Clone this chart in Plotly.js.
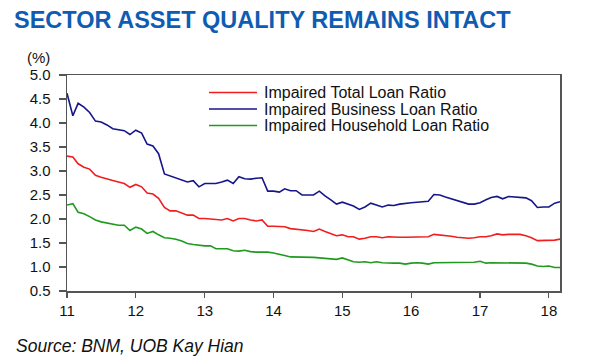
<!DOCTYPE html>
<html>
<head>
<meta charset="utf-8">
<script src="https://cdn.plot.ly/plotly-3.0.1.min.js"></script>
<style>html,body{margin:0;padding:0;background:#fff;}#chart{width:600px;height:360px;}</style>
</head>
<body>
<div id="chart"></div>
<script>
// Monthly data, Jan 2011 .. Mar 2018
const startYear = 2011, startMonth = 1, nMonths = 87;
const months = [];
for (let i = 0; i < nMonths; i++) {
  const y = startYear + Math.floor((startMonth - 1 + i) / 12);
  const m = ((startMonth - 1 + i) % 12) + 1;
  months.push(y + '-' + String(m).padStart(2, '0') + '-01');
}

const seriesNames = ['Impaired Total Loan Ratio', 'Impaired Business Loan Ratio', 'Impaired Household Loan Ratio'];

const totalLoan = [3.31,3.29,3.15,3.08,3.04,2.91,2.87,2.83,2.80,2.77,2.74,2.66,
 2.72,2.67,2.54,2.52,2.43,2.24,2.17,2.17,2.12,2.08,2.08,2.01,
 2.01,2.00,1.98,1.98,2.01,1.96,2.01,2.01,1.98,1.96,1.98,1.85,
 1.85,1.84,1.84,1.80,1.79,1.77,1.76,1.74,1.79,1.74,1.70,1.65,
 1.67,1.63,1.63,1.58,1.60,1.63,1.63,1.61,1.63,1.62,1.62,1.62,
 1.62,1.63,1.63,1.63,1.68,1.67,1.66,1.64,1.62,1.61,1.60,1.61,
 1.63,1.63,1.65,1.69,1.67,1.68,1.68,1.68,1.65,1.61,1.55,1.55,
 1.55,1.56,1.58];

const businessLoan = [4.62,4.15,4.41,4.33,4.22,4.04,4.02,3.96,3.88,3.86,3.84,3.76,
 3.85,3.79,3.56,3.52,3.36,2.94,2.90,2.85,2.81,2.77,2.80,2.67,
 2.74,2.74,2.74,2.77,2.81,2.74,2.88,2.84,2.83,2.85,2.86,2.58,
 2.58,2.56,2.63,2.59,2.59,2.50,2.50,2.50,2.58,2.48,2.40,2.31,
 2.35,2.31,2.27,2.20,2.25,2.33,2.29,2.25,2.29,2.28,2.31,2.33,
 2.34,2.35,2.36,2.37,2.51,2.50,2.46,2.42,2.38,2.34,2.31,2.31,
 2.34,2.40,2.45,2.47,2.42,2.47,2.46,2.46,2.44,2.38,2.24,2.25,
 2.25,2.33,2.36];

const householdLoan = [2.29,2.32,2.14,2.11,2.05,1.98,1.94,1.92,1.90,1.87,1.87,1.76,
 1.83,1.79,1.70,1.74,1.67,1.61,1.60,1.58,1.54,1.49,1.47,1.45,
 1.44,1.44,1.38,1.38,1.38,1.34,1.33,1.35,1.32,1.31,1.31,1.31,
 1.29,1.27,1.24,1.21,1.21,1.21,1.21,1.20,1.19,1.18,1.17,1.16,
 1.19,1.15,1.11,1.10,1.11,1.09,1.11,1.09,1.08,1.08,1.08,1.06,
 1.08,1.09,1.08,1.06,1.09,1.09,1.09,1.09,1.09,1.09,1.09,1.10,
 1.12,1.08,1.09,1.09,1.09,1.09,1.09,1.09,1.08,1.06,1.02,1.01,
 1.02,0.99,0.99];

const xTickVals = ['2011-01-01','2012-01-01','2013-01-01','2014-01-01','2015-01-01','2016-01-01','2017-01-01','2018-01-01'];
const xTickText = ['11','12','13','14','15','16','17','18'];
const yTickVals = [0.5,1.0,1.5,2.0,2.5,3.0,3.5,4.0,4.5,5.0];

const colors = ['#f01e1e', '#16168a', '#1f9a1f'];
const values = [totalLoan, businessLoan, householdLoan];

const traces = values.map((v, i) => ({
  type: 'scatter', mode: 'lines', x: months, y: v, name: seriesNames[i],
  line: {color: colors[i], width: 1.6}, showlegend: false
}));

const FONT = 'Arial, "Liberation Sans", sans-serif';

// Plot-area geometry (pixels) for converting decoration positions to paper coords
const PL = 67, PR = 560, PT = 75, PB = 291;
const px2x = p => (p - PL) / (PR - PL);
const py2y = p => (PB - p) / (PB - PT);

// Hand-built legend (tighter row spacing than Plotly's native legend)
const legendRows = [92.5, 109, 125.5];
const shapes = seriesNames.map((n, i) => ({
  type: 'line', xref: 'paper', yref: 'paper',
  x0: px2x(209), x1: px2x(257), y0: py2y(legendRows[i]), y1: py2y(legendRows[i]),
  line: {color: colors[i], width: 1.6}
}));
const legendText = seriesNames.map((n, i) => ({
  text: n, xref: 'paper', yref: 'paper', x: px2x(262), y: py2y(legendRows[i]),
  xanchor: 'left', yanchor: 'middle', showarrow: false,
  font: {family: FONT, size: 16, color: '#111'}
}));

const layout = {
  width: 600, height: 360,
  margin: {l: PL, r: 600 - PR, t: PT, b: 360 - PB, pad: 0},
  paper_bgcolor: '#fff', plot_bgcolor: '#fff',
  font: {family: FONT, size: 15, color: '#111'},
  title: {
    text: '<b>SECTOR ASSET QUALITY REMAINS INTACT</b>',
    font: {family: FONT, size: 23.5, color: '#0f5cb3'},
    x: 14/600, xanchor: 'left', xref: 'container',
    y: 1 - 20/360, yanchor: 'middle', yref: 'container'
  },
  showlegend: false,
  xaxis: {
    type: 'date', range: [months[0], months[months.length - 1]],
    tickvals: xTickVals, ticktext: xTickText,
    ticks: 'outside', ticklen: 5, tickwidth: 1.2, tickcolor: '#555',
    showline: true, linecolor: '#555', linewidth: 1.5, mirror: true,
    showgrid: false, zeroline: false,
    tickfont: {family: FONT, size: 15, color: '#111'}
  },
  yaxis: {
    range: [0.5, 5.0], tickvals: yTickVals, tickformat: '.1f',
    ticks: 'outside', ticklen: 7, tickwidth: 1.2, tickcolor: '#555',
    ticklabelstandoff: 5,
    showline: true, linecolor: '#555', linewidth: 1.5, mirror: true,
    showgrid: false, zeroline: false,
    tickfont: {family: FONT, size: 15, color: '#111'}
  },
  shapes: shapes,
  annotations: legendText.concat([
    {text: '(%)', xref: 'paper', yref: 'paper', x: px2x(38), y: py2y(57),
     xanchor: 'center', yanchor: 'middle', showarrow: false,
     font: {family: FONT, size: 15, color: '#111'}},
    {text: '<i>Source: BNM, UOB Kay Hian</i>', xref: 'paper', yref: 'paper',
     x: px2x(14), y: py2y(346), xanchor: 'left', yanchor: 'middle', showarrow: false,
     font: {family: FONT, size: 17.5, color: '#111'}}
  ])
};

Plotly.newPlot('chart', traces, layout, {displayModeBar: false, staticPlot: true});
</script>
</body>
</html>
